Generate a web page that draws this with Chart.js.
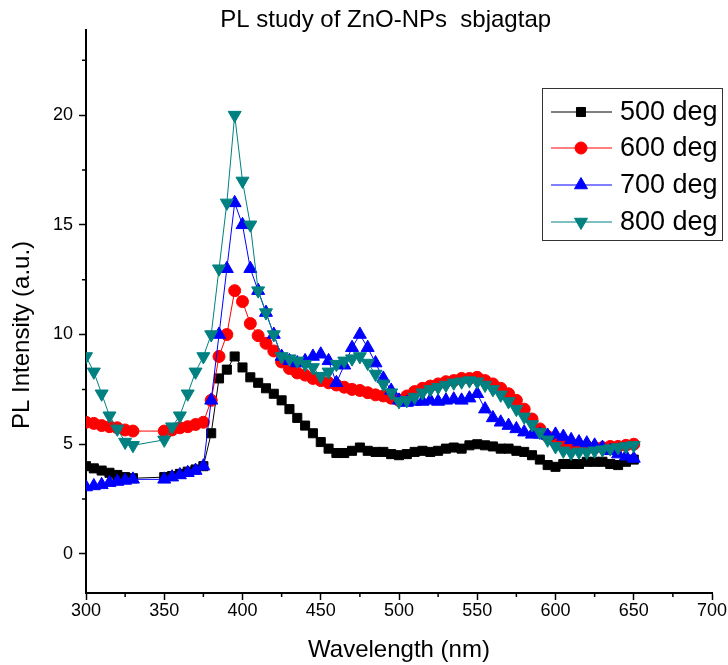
<!DOCTYPE html>
<html>
<head>
<meta charset="utf-8">
<script src="https://cdn.jsdelivr.net/npm/chart.js@4.4.1/dist/chart.umd.min.js"></script>
<style>
  body { margin: 0; background: #fff; }
</style>
</head>
<body>
<canvas id="plChart" width="728" height="665"></canvas>
<script>
// wavelength (nm), there is no reading between 330 and 350
const wavelengths = [300, 305, 310, 315, 320, 325, 330,
  350, 355, 360, 365, 370, 375, 380, 385, 390, 395, 400, 405, 410, 415, 420, 425, 430, 435, 440, 445,
  450, 455, 460, 465, 470, 475, 480, 485, 490, 495, 500, 505, 510, 515, 520, 525, 530, 535, 540, 545,
  550, 555, 560, 565, 570, 575, 580, 585, 590, 595, 600, 605, 610, 615, 620, 625, 630, 635, 640, 645, 650];

const deg500 = [4.0, 3.9, 3.8, 3.7, 3.6, 3.5, 3.45,
  3.5, 3.55, 3.65, 3.75, 3.85, 4.0, 5.5, 8.0, 8.4, 9.0, 8.5, 8.05, 7.8, 7.55, 7.3, 7.0, 6.6, 6.2, 5.85, 5.5,
  5.1, 4.8, 4.6, 4.6, 4.7, 4.85, 4.7, 4.65, 4.65, 4.55, 4.5, 4.55, 4.65, 4.7, 4.65, 4.7, 4.8, 4.85, 4.8, 4.95,
  5.0, 4.95, 4.9, 4.8, 4.8, 4.7, 4.65, 4.5, 4.3, 4.05, 3.97, 4.1, 4.1, 4.1, 4.2, 4.2, 4.2, 4.1, 4.05, 4.2, 4.3];

const deg600 = [6.0, 5.95, 5.85, 5.8, 5.75, 5.65, 5.6,
  5.6, 5.65, 5.75, 5.8, 5.9, 6.0, 7.0, 9.0, 10.0, 12.0, 11.5, 10.5, 9.95, 9.6, 9.25, 8.75, 8.45, 8.25, 8.15, 8.0,
  7.9, 7.8, 7.7, 7.6, 7.5, 7.45, 7.35, 7.25, 7.2, 7.1, 7.0, 7.2, 7.4, 7.55, 7.65, 7.75, 7.85, 7.9, 8.0, 8.0,
  8.05, 7.9, 7.75, 7.55, 7.3, 7.0, 6.6, 6.15, 5.7, 5.35, 5.1, 5.0, 4.95, 4.9, 4.9, 4.85, 4.85, 4.9, 4.9, 4.95, 5.0];

const deg700 = [3.05, 3.1, 3.15, 3.25, 3.3, 3.35, 3.4,
  3.4, 3.5, 3.6, 3.7, 3.8, 4.0, 7.0, 10.0, 13.0, 16.0, 15.0, 13.0, 12.0, 11.0, 10.0, 9.0, 8.8, 8.7, 8.8, 9.0,
  9.1, 8.8, 7.8, 8.6, 9.4, 10.0, 9.4, 8.7, 8.0, 7.45, 7.0, 6.9, 6.95, 6.95, 7.0, 6.95, 7.0, 7.05, 7.0, 7.1,
  7.3, 6.6, 6.2, 6.0, 5.85, 5.7, 5.55, 5.45, 5.45, 5.4, 5.45, 5.35, 5.2, 5.1, 5.05, 4.95, 4.85, 4.7, 4.55, 4.45, 4.35];

const deg800 = [9.0, 8.3, 7.3, 6.3, 5.7, 5.1, 4.95,
  5.2, 5.8, 6.3, 7.3, 8.3, 9.0, 10.0, 13.0, 16.0, 20.0, 17.0, 15.0, 12.0, 11.0, 10.0, 9.0, 8.9, 8.8, 8.65, 8.5,
  8.1, 8.3, 8.65, 8.8, 8.9, 9.0, 8.7, 8.2, 7.75, 7.35, 6.95, 7.0, 7.15, 7.35, 7.5, 7.6, 7.7, 7.8, 7.85, 7.9,
  7.85, 7.7, 7.5, 7.25, 6.95, 6.6, 6.25, 5.9, 5.55, 5.2, 4.9, 4.7, 4.6, 4.65, 4.65, 4.7, 4.75, 4.8, 4.85, 4.9, 4.95];

const seriesNames = ['500 deg', '600 deg', '700 deg', '800 deg'];

const xMajorTicks = [300, 350, 400, 450, 500, 550, 600, 650, 700];
const xMinorTicks = [325, 375, 425, 475, 525, 575, 625, 675];
const yMajorTicks = [0, 5, 10, 15, 20];
const yMinorTicks = [2.5, 7.5, 12.5, 17.5, 22.5];

const FONT = "'Liberation Sans', Arial, sans-serif";
Chart.defaults.font.family = FONT;
Chart.defaults.color = '#000';

function toPoints(values) {
    return values.map((v, i) => ({ x: wavelengths[i], y: v }));
}

function series(label, values, color, style, radius, rotation, order) {
    return {
        label: label,
        data: toPoints(values),
        borderColor: color,
        backgroundColor: color,
        borderWidth: 1,
        pointStyle: style,
        pointRadius: radius,
        pointHoverRadius: radius,
        pointRotation: rotation,
        pointBorderWidth: 1,
        pointBackgroundColor: color,
        pointBorderColor: color,
        tension: 0,
        order: order
    };
}

// minor ticks are shorter, drawn by hand on the two axes
const minorTicks = {
    id: 'minorTicks',
    afterDraw(chart) {
        const ctx = chart.ctx;
        const area = chart.chartArea;
        const xs = chart.scales.x, ys = chart.scales.y;
        ctx.save();
        ctx.strokeStyle = '#000';
        ctx.lineWidth = 1.5;
        ctx.beginPath();
        xMinorTicks.forEach(v => {
            const px = xs.getPixelForValue(v);
            ctx.moveTo(px, area.bottom);
            ctx.lineTo(px, area.bottom + 4);
        });
        yMinorTicks.forEach(v => {
            const py = ys.getPixelForValue(v);
            ctx.moveTo(area.left - 4, py);
            ctx.lineTo(area.left, py);
        });
        ctx.stroke();
        ctx.restore();
    }
};

// boxed legend in the upper right, line + marker + name
const boxLegend = {
    id: 'boxLegend',
    afterDraw(chart) {
        const ctx = chart.ctx;
        const left = 542, top = 88, width = 180, height = 152;
        const rowY = [112, 148, 185, 222];
        ctx.save();
        ctx.fillStyle = '#fff';
        ctx.fillRect(left, top, width, height);
        ctx.strokeStyle = '#333';
        ctx.lineWidth = 1;
        ctx.strokeRect(left + 0.5, top + 0.5, width, height);
        chart.data.datasets.forEach((ds, i) => {
            const y = rowY[i];
            ctx.strokeStyle = ds.borderColor;
            ctx.lineWidth = 1;
            ctx.beginPath();
            ctx.moveTo(551, y);
            ctx.lineTo(612, y);
            ctx.stroke();
            ctx.fillStyle = ds.pointBackgroundColor;
            ctx.strokeStyle = ds.pointBorderColor;
            Chart.helpers.drawPoint(ctx, {
                pointStyle: ds.pointStyle,
                radius: ds.pointRadius,
                rotation: ds.pointRotation,
                borderWidth: 1
            }, 581, y);
            ctx.fillStyle = '#000';
            ctx.font = '27px ' + FONT;
            ctx.textBaseline = 'middle';
            ctx.textAlign = 'left';
            ctx.fillText(ds.label, 620, y + 1);
        });
        ctx.restore();
    }
};

new Chart(document.getElementById('plChart'), {
    type: 'line',
    data: {
        datasets: [
            series(seriesNames[0], deg500, '#000000', 'rect', 6.4, 0, 3),
            series(seriesNames[1], deg600, '#ff0000', 'circle', 6, 0, 2),
            series(seriesNames[2], deg700, '#0000ff', 'triangle', 7.5, 0, 1),
            series(seriesNames[3], deg800, '#008080', 'triangle', 7.5, 180, 0)
        ]
    },
    options: {
        responsive: false,
        animation: false,
        layout: { padding: { left: 0, right: 16, top: 0, bottom: 0 } },
        plugins: {
            legend: { display: false },
            tooltip: { enabled: false },
            title: {
                display: true,
                fullSize: false,
                // trailing spaces nudge the centred title a little to the left
                text: 'PL study of ZnO-NPs  sbjagtap    ',
                font: { size: 24, weight: 'normal', lineHeight: 0.8 },
                color: '#000',
                padding: { top: 11, bottom: 0 }
            }
        },
        scales: {
            x: {
                type: 'linear',
                min: 300,
                max: 700,
                afterBuildTicks: s => { s.ticks = xMajorTicks.map(v => ({ value: v })); },
                afterFit: s => { s.height = 72; },
                border: { display: true, color: '#000', width: 2 },
                grid: { drawOnChartArea: false, drawTicks: true, tickLength: 7, tickWidth: 1.5, tickColor: '#000' },
                ticks: { font: { size: 18 }, padding: 0, maxRotation: 0, autoSkip: false },
                title: { display: true, text: 'Wavelength (nm)', font: { size: 24 }, padding: { top: 1, bottom: 0 } }
            },
            y: {
                type: 'linear',
                min: -1.78,
                max: 23.87,
                afterBuildTicks: s => { s.ticks = yMajorTicks.map(v => ({ value: v })); },
                afterFit: s => { s.width = 86; },
                border: { display: true, color: '#000', width: 2 },
                grid: { drawOnChartArea: false, drawTicks: true, tickLength: 7, tickWidth: 1.5, tickColor: '#000' },
                ticks: { font: { size: 18 }, padding: 6, autoSkip: false },
                // trailing spaces push the centred text down, as in the original
                title: { display: true, text: 'PL Intensity (a.u.)       ', font: { size: 24 }, padding: { top: 8, bottom: 0 } }
            }
        }
    },
    plugins: [minorTicks, boxLegend]
});
</script>
</body>
</html>
